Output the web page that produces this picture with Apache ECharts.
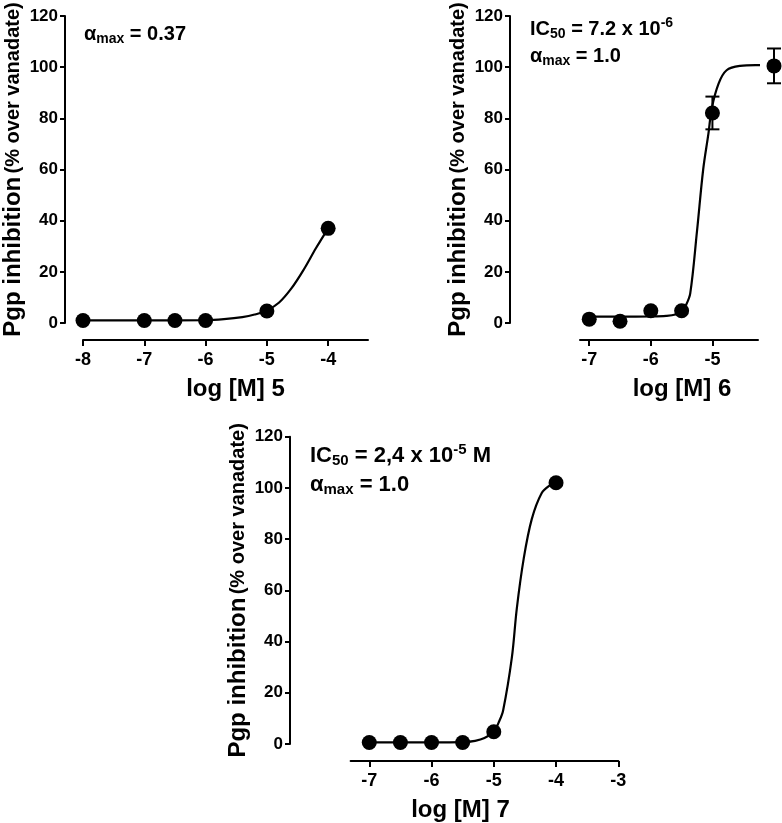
<!DOCTYPE html>
<html><head><meta charset="utf-8">
<script src="https://cdn.jsdelivr.net/npm/echarts@6/dist/echarts.min.js"></script>
<style>html,body{margin:0;padding:0;background:#fff}#c{width:782px;height:823px}</style>
</head><body><div id="c"></div>
<script>
const FONT = "'Liberation Sans', Arial, Helvetica, sans-serif";

// Panel 1 (compound 5)
const p1X = [-8, -7, -6.5, -6, -5, -4];
const p1Y = [1, 1, 1, 1, 4.7, 37];
const p1CurveX = [-8, -7, -6, -5.7, -5.4, -5.2, -5, -4.8, -4.6, -4.4, -4.2, -4];
const p1CurveY = [1, 1, 1.1, 1.5, 2.3, 3.3, 4.9, 8, 13.5, 20.8, 29.2, 37];
const p1Ticks = [-8, -7, -6, -5, -4];

// Panel 2 (compound 6)
const p2X = [-7, -6.5, -6, -5.5, -5, -4];
const p2Y = [1.5, 0.7, 4.8, 4.8, 82.1, 100.5];
const p2Err = [0, 0, 0, 0, 6.4, 6.8];
const p2CurveX = [-7, -6.5, -6, -5.75, -5.6, -5.5, -5.43, -5.36, -5.25, -5.15, -5.065, -5.01, -4.9, -4.77, -4.55, -4.3, -4.06];
const p2CurveY = [2.5, 2.5, 2.6, 2.8, 3.3, 4.5, 7, 11.6, 36, 60, 74, 84, 93.6, 98.8, 100.5, 100.8, 100.8];
const p2Ticks = [-7, -6, -5];

// Panel 3 (compound 7)
const p3X = [-7, -6.5, -6, -5.5, -5, -4];
const p3Y = [0.6, 0.6, 0.6, 0.6, 4.8, 102];
const p3CurveX = [-7, -6, -5.5, -5.3, -5.15, -5, -4.92, -4.85, -4.71, -4.63, -4.52, -4.39, -4.23, -4.1, -4];
const p3CurveY = [0.6, 0.6, 0.7, 1.2, 2.3, 4.8, 8.5, 13.1, 33.7, 53, 72.3, 87.8, 98, 101, 102];
const p3Ticks = [-7, -6, -5, -4, -3];

const yTicks = [0, 20, 40, 60, 80, 100, 120];
const xNames = ['log [M] 5', 'log [M] 6', 'log [M] 7'];
const yName = ['Pgp inhibition', '(% over vanadate)'];

const zip = (a, b) => a.map((v, i) => [v, b[i]]);

const grids = [
  {left: 80, top: 16, width: 288, height: 307},
  {left: 580, top: 16, width: 178, height: 307},
  {left: 350.6, top: 436.7, width: 267.7, height: 310.6}
];
const xExt = [[-8, -3.35], [-7.15, -4.26], [-7.3, -3]];
const xTickSets = [p1Ticks, p2Ticks, p3Ticks];
const yOffsets = [18, 70, 60.6];
const xNamePad = [[0, 0, 0, 20], [0, 0, 0, 26], [0, 48, 0, 0]];

const xAxes = grids.map((g, i) => ({
  type: 'value', gridIndex: i, min: xExt[i][0], max: xExt[i][1],
  offset: 17,
  axisLine: {show: true, onZero: false, lineStyle: {color: '#000', width: 2}},
  axisTick: {show: true, length: 6, lineStyle: {color: '#000', width: 2}, customValues: xTickSets[i]},
  axisLabel: {customValues: xTickSets[i], color: '#000', fontFamily: FONT, fontWeight: 'bold', fontSize: 18, margin: 11},
  splitLine: {show: false},
  name: xNames[i], nameLocation: 'middle', nameGap: 37,
  nameTextStyle: {color: '#000', fontFamily: FONT, fontWeight: 'bold', fontSize: 24, padding: xNamePad[i]}
}));

const yAxes = grids.map((g, i) => ({
  type: 'value', gridIndex: i, min: 0, max: 120, interval: 20,
  offset: yOffsets[i],
  axisLine: {show: true, onZero: false, lineStyle: {color: '#000', width: 2}},
  axisTick: {show: true, length: 5, lineStyle: {color: '#000', width: 2}},
  axisLabel: {color: '#000', fontFamily: FONT, fontWeight: 'bold', fontSize: 17, margin: 7},
  splitLine: {show: false},
  name: '{a|' + yName[0] + '} {b|' + yName[1] + '}',
  nameLocation: 'middle', nameGap: 40, nameRotate: 90,
  nameTextStyle: {
    rich: {
      a: {color: '#000', fontFamily: FONT, fontWeight: 'bold', fontSize: 24},
      b: {color: '#000', fontFamily: FONT, fontWeight: 'bold', fontSize: 20}
    }
  }
}));

function errRender(params, api) {
  const x = api.value(0), y = api.value(1), e = api.value(2);
  if (!e) return null;
  const t = api.coord([x, y + e]);
  const b = api.coord([x, y - e]);
  const w = 7;
  const st = {stroke: '#000', lineWidth: 2};
  return {type: 'group', children: [
    {type: 'line', shape: {x1: t[0], y1: t[1], x2: b[0], y2: b[1]}, style: st},
    {type: 'line', shape: {x1: t[0] - w, y1: t[1], x2: t[0] + w, y2: t[1]}, style: st},
    {type: 'line', shape: {x1: b[0] - w, y1: b[1], x2: b[0] + w, y2: b[1]}, style: st}
  ]};
}

const curves = [zip(p1CurveX, p1CurveY), zip(p2CurveX, p2CurveY), zip(p3CurveX, p3CurveY)];
const pts = [zip(p1X, p1Y), zip(p2X, p2Y), zip(p3X, p3Y)];

const series = [];
for (let i = 0; i < 3; i++) {
  series.push({
    type: 'line', xAxisIndex: i, yAxisIndex: i, data: curves[i], showSymbol: false,
    smooth: 0.35, clip: false,
    lineStyle: {color: '#000', width: 2.2}, silent: true, animation: false
  });
  series.push({
    type: 'scatter', xAxisIndex: i, yAxisIndex: i, data: pts[i], symbol: 'circle', symbolSize: 15,
    itemStyle: {color: '#000', opacity: 1}, clip: false, animation: false
  });
}
series.push({
  type: 'custom', xAxisIndex: 1, yAxisIndex: 1, renderItem: errRender, clip: false,
  data: p2X.map((x, i) => [x, p2Y[i], p2Err[i]]), animation: false, z: 3
});

function rich(size) {
  return {
    a: {fontSize: size, fontWeight: 'bold', fontFamily: FONT, fill: '#000', lineHeight: size + 4},
    s: {fontSize: Math.round(size * 0.7), fontWeight: 'bold', fontFamily: FONT, fill: '#000', lineHeight: Math.round(size * 0.7), padding: [10, 0, 0, 0]},
    p: {fontSize: Math.round(size * 0.7), fontWeight: 'bold', fontFamily: FONT, fill: '#000', lineHeight: Math.round(size * 0.7), padding: [0, 0, 12, 0]}
  };
}
function label(x, y, text, size) {
  return {type: 'text', left: x, top: y, style: {text: text, rich: rich(size), fill: '#000', font: 'bold ' + size + 'px ' + FONT}};
}

const chart = echarts.init(document.getElementById('c'), null, {renderer: 'canvas'});
chart.setOption({
  backgroundColor: '#fff',
  animation: false,
  grid: grids,
  xAxis: xAxes,
  yAxis: yAxes,
  series: series,
  graphic: [
    label(84, 22, '{a|α}{s|max}{a| = 0.37}', 20),
    label(530, 16, '{a|IC}{s|50}{a| = 7.2 x 10}{p|-6}', 20),
    label(530, 44, '{a|α}{s|max}{a| = 1.0}', 20),
    label(310, 442, '{a|IC}{s|50}{a| = 2,4 x 10}{p|-5}{a| M}', 22),
    label(310, 472, '{a|α}{s|max}{a| = 1.0}', 22)
  ]
});
</script>
</body></html>
